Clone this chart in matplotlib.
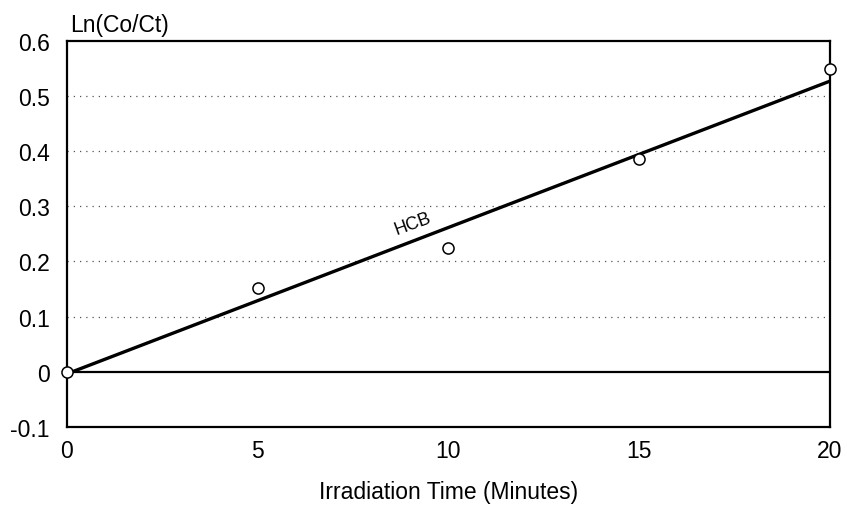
import matplotlib.pyplot as plt

plt.rcParams["font.family"] = "Liberation Sans"

# measured points
time_min = [0, 5, 10, 15, 20]
ln_ratio = [0.0, 0.151, 0.225, 0.385, 0.548]

# fitted line
fit_x = [0, 20]
fit_y = [-0.004, 0.527]

y_ticks = [-0.1, 0, 0.1, 0.2, 0.3, 0.4, 0.5, 0.6]
y_labels = ["-0.1", "0", "0.1", "0.2", "0.3", "0.4", "0.5", "0.6"]
x_ticks = [0, 5, 10, 15, 20]
grid_levels = [0.1, 0.2, 0.3, 0.4, 0.5]

fig = plt.figure(figsize=(8.47, 5.10), dpi=100)
ax = fig.add_axes([0.0787, 0.161, 0.9013, 0.757])

for g in grid_levels:
    ax.axhline(g, color="#555555", linestyle=(0, (1, 4)), linewidth=0.9, zorder=1)
ax.axhline(0, color="black", linewidth=1.6, zorder=2)

ax.plot(fit_x, fit_y, color="black", linewidth=2.4, zorder=3, solid_capstyle="butt")
ax.plot(time_min, ln_ratio, linestyle="none", marker="o", markersize=8,
        markerfacecolor="white", markeredgecolor="black", markeredgewidth=1.1,
        zorder=4, clip_on=False)

ax.text(9.07, 0.27, "HCB", fontsize=13, rotation=20, ha="center", va="center")

ax.set_xlim(0, 20)
ax.set_ylim(-0.1, 0.6)
ax.set_xticks(x_ticks)
ax.set_yticks(y_ticks)
ax.set_yticklabels(y_labels)
ax.tick_params(length=0, labelsize=16.5, pad=12)
ax.tick_params(axis="x", pad=9)
for s in ax.spines.values():
    s.set_linewidth(1.6)

ax.set_xlabel("Irradiation Time (Minutes)", fontsize=16.5, labelpad=13)
ax.text(0.004, 1.026, "Ln(Co/Ct)", transform=ax.transAxes, fontsize=16.5,
        ha="left", va="baseline")

plt.savefig("out.png", dpi=100)
